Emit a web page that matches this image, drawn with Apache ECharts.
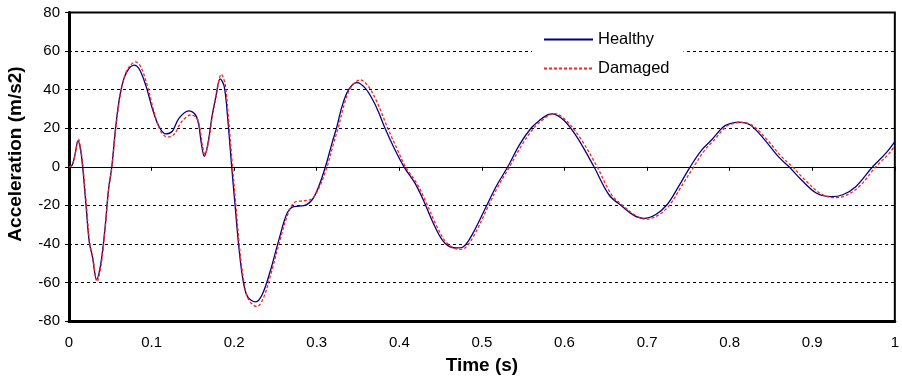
<!DOCTYPE html>
<html>
<head>
<meta charset="utf-8">
<script src="https://cdn.jsdelivr.net/npm/echarts@6/dist/echarts.min.js"></script>
<style>html,body{margin:0;padding:0;background:#fff;}#c{width:902px;height:380px;}</style>
</head>
<body>
<div id="c"></div>
<script>
var xTicks = [0, 0.1, 0.2, 0.3, 0.4, 0.5, 0.6, 0.7, 0.8, 0.9, 1];
var yTicks = [-80, -60, -40, -20, 0, 20, 40, 60, 80];
var yTitle = 'Acceleration (m/s2)';
var xTitle = 'Time (s)';

var healthyT = [0,0.004,0.0076,0.011,0.014,0.0165,0.0205,0.0245,0.0285,0.0333,0.0386,0.0438,0.0478,0.0518,0.0566,0.0614,0.0667,0.0727,0.0787,0.0847,0.0928,0.1008,0.1088,0.1169,0.1249,0.1329,0.145,0.153,0.157,0.1602,0.1639,0.1683,0.1731,0.1771,0.1831,0.188,0.192,0.197,0.201,0.2052,0.21,0.216,0.2261,0.234,0.2442,0.2542,0.2642,0.2723,0.2843,0.2944,0.3024,0.3105,0.3185,0.3245,0.3305,0.3386,0.3486,0.3587,0.3687,0.3747,0.3827,0.3928,0.4056,0.4189,0.4289,0.443,0.455,0.469,0.4771,0.4892,0.5052,0.5172,0.5313,0.5454,0.5594,0.5695,0.5795,0.5855,0.5996,0.6157,0.6357,0.6538,0.6699,0.684,0.696,0.71,0.7241,0.7382,0.7522,0.7663,0.7783,0.7904,0.7964,0.8105,0.8245,0.8406,0.8587,0.8719,0.8867,0.9048,0.9229,0.937,0.953,0.9731,0.9892,1.0];
var healthyV = [0,1,7,13.6,8.8,0,-19.5,-39,-47,-58.5,-50,-31,-12,0,21,36.4,46,51.1,52.8,51,42.5,30.4,21,17.1,18.3,25,29,27,22,12.3,5.4,12.3,26,34.7,45.6,41.6,26,0,-19.5,-39.5,-56.8,-67.2,-70.1,-66.3,-53.4,-37.8,-24,-20.6,-20.2,-17.1,-10.2,0,12.3,21,31.2,40,43.7,40.8,34,28.5,20,10.5,0,-8.5,-17.1,-31,-39.5,-42.1,-41.6,-34.4,-20.6,-10.2,0,11.4,20,24,26.9,27.5,24,15,0,-14.5,-20.6,-25.2,-26.8,-24.9,-19.7,-10.2,0,8.8,14,20,21.8,23.2,21.8,14.9,5.4,0,-6.7,-13.6,-15.5,-14.5,-10.2,0,7.1,13.1];

var damagedT = [0,0.004,0.0076,0.0115,0.0145,0.017,0.021,0.025,0.029,0.034,0.039,0.044,0.048,0.052,0.057,0.062,0.067,0.073,0.0807,0.0867,0.095,0.103,0.111,0.1195,0.1275,0.1365,0.148,0.155,0.159,0.1615,0.1645,0.169,0.1735,0.178,0.1845,0.189,0.193,0.198,0.202,0.206,0.211,0.217,0.2275,0.2355,0.2455,0.2555,0.2655,0.273,0.2843,0.2944,0.3035,0.3125,0.3205,0.3265,0.333,0.341,0.3526,0.362,0.372,0.378,0.386,0.396,0.4075,0.421,0.431,0.4455,0.4575,0.472,0.48,0.492,0.5075,0.5195,0.5335,0.5485,0.5625,0.5725,0.582,0.588,0.602,0.619,0.6395,0.657,0.672,0.686,0.699,0.713,0.727,0.7415,0.7565,0.77,0.7815,0.7935,0.7995,0.813,0.827,0.8435,0.8625,0.876,0.891,0.909,0.926,0.94,0.957,0.977,0.9935,1.0];
var damagedV = [0,1,7,14.3,8.5,0,-19.5,-39,-47.5,-59.5,-50.5,-31,-12,0,21,36.8,46.5,52,54.4,52,42,28.5,18.5,15.4,17,23.5,26.9,25,19,11,6.5,13,26,36,48,43,26,0,-19.5,-39.5,-57.5,-68.5,-72.5,-68,-54,-38,-24,-18.5,-17.6,-16.5,-10.2,0,12.3,21,32,41,45.1,42,34.5,28.5,20,10.5,0,-8.5,-17.1,-31,-39.5,-42.8,-42,-34.4,-20.6,-10.2,0,11.4,20,24,26.9,27.6,24,15,0,-14.5,-20.6,-25.2,-27.2,-25.2,-20,-10.2,0,8.8,14,20,21.8,23,21.6,14.9,5.4,0,-6.7,-13.6,-16,-15,-10.2,0,7.1,11];

function pairs(t, v) { return t.map(function (x, i) { return [x, v[i]]; }); }

var FONT = 'Liberation Sans, Arial, sans-serif';
var chart = echarts.init(document.getElementById('c'), null, {renderer: 'canvas'});
chart.setOption({
  animation: false,
  backgroundColor: '#ffffff',
  grid: {left: 69, right: 2, top: 12.6, bottom: 58.6, show: true, borderColor: '#000', borderWidth: 2, containLabel: false},
  legend: {
    orient: 'vertical', left: 532, top: 23,
    padding: [8, 14, 8, 11], itemGap: 12, itemWidth: 49, itemHeight: 14,
    backgroundColor: '#ffffff',
    itemStyle: {opacity: 0},
    textStyle: {fontFamily: FONT, fontSize: 16.5, color: '#000'},
    data: ['Healthy', 'Damaged']
  },
  graphic: [{
    type: 'text', x: 15.5, y: 154, rotation: Math.PI / 2,
    style: {text: yTitle, fontFamily: FONT, fontSize: 19, fontWeight: 'bold', fill: '#000',
      textAlign: 'center', textVerticalAlign: 'middle'}
  }],
  xAxis: [{
    type: 'value', min: xTicks[0], max: xTicks[xTicks.length - 1], interval: 0.1,
    position: 'bottom',
    axisLine: {onZero: false, lineStyle: {color: '#000', width: 3}},
    axisTick: {show: false},
    splitLine: {show: false},
    axisLabel: {fontFamily: FONT, fontSize: 15, color: '#000', margin: 14,
      formatter: function (v) { return xTicks.indexOf(+v.toFixed(1)) >= 0 ? String(+v.toFixed(1)) : ''; }},
    name: xTitle, nameLocation: 'middle', nameGap: 35,
    nameTextStyle: {fontFamily: FONT, fontSize: 19, fontWeight: 'bold', color: '#000'}
  }, {
    type: 'value', min: xTicks[0], max: xTicks[xTicks.length - 1], interval: 0.1,
    position: 'bottom',
    axisLine: {onZero: true, lineStyle: {color: '#000', width: 1}},
    axisTick: {show: true, inside: false, length: 4, lineStyle: {color: '#000', width: 1}},
    axisLabel: {show: false},
    splitLine: {show: false}
  }],
  yAxis: {
    type: 'value', min: yTicks[0], max: yTicks[yTicks.length - 1], interval: 20,
    axisLine: {show: true, onZero: false, lineStyle: {color: '#000', width: 3}},
    axisTick: {show: true, length: 4, lineStyle: {color: '#000', width: 1}},
    splitLine: {show: true, lineStyle: {color: '#000', width: 1, type: [3, 3]}},
    axisLabel: {fontFamily: FONT, fontSize: 15, color: '#000', margin: 9}
  },
  series: [{
    name: 'Healthy', type: 'line', xAxisIndex: 0,
    data: pairs(healthyT, healthyV),
    showSymbol: false, symbol: 'none', smooth: 0.35,
    lineStyle: {color: '#000080', width: 1.3},
    itemStyle: {color: '#000080'}
  }, {
    name: 'Damaged', type: 'line', xAxisIndex: 0,
    data: pairs(damagedT, damagedV),
    showSymbol: false, symbol: 'none', smooth: 0.35,
    lineStyle: {color: '#ff2020', width: 1.3, type: [3, 2]},
    itemStyle: {color: '#ff2020'}
  }]
});
</script>
</body>
</html>
